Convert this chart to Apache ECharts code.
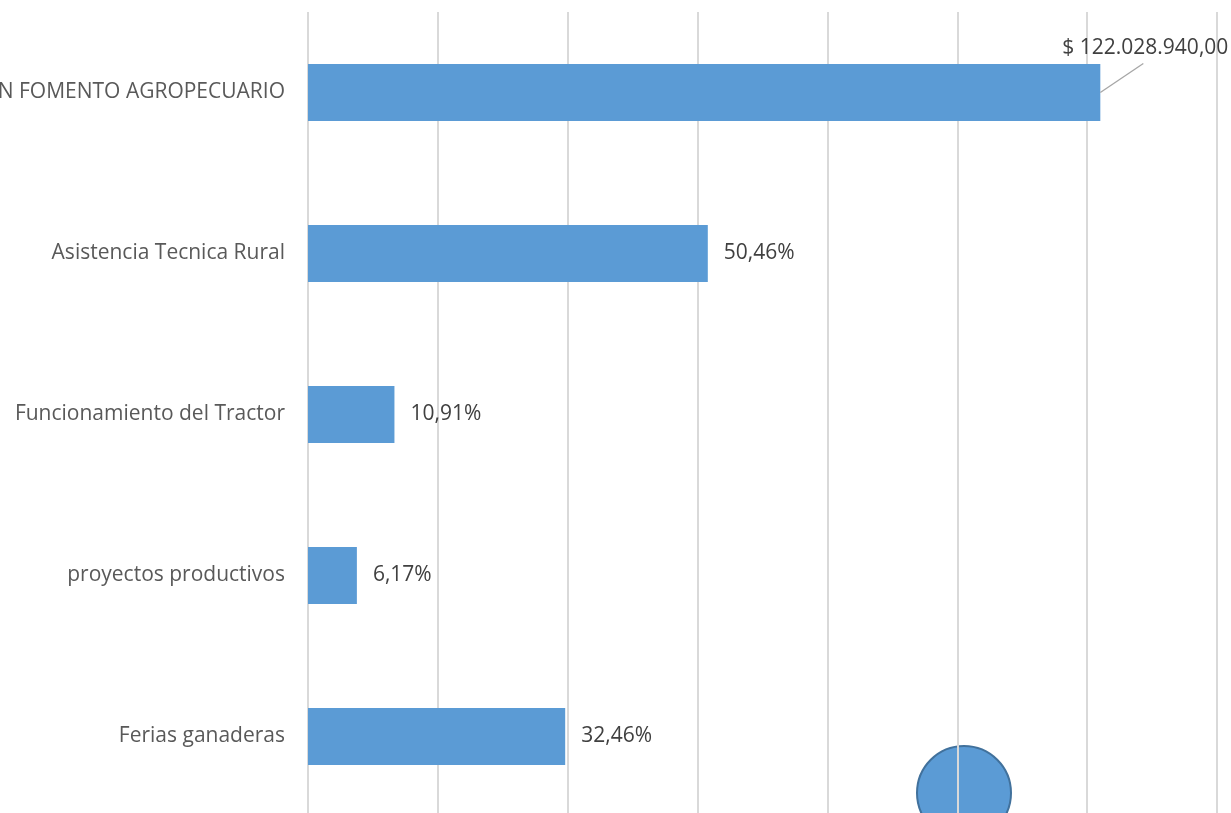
<!DOCTYPE html>
<html>
<head>
<meta charset="utf-8">
<script src="https://cdn.jsdelivr.net/npm/echarts@6/dist/echarts.min.js"></script>
<style>
  html, body { margin: 0; padding: 0; background: #ffffff; }
  #chart { width: 1231px; height: 813px; }
</style>
</head>
<body>
<div id="chart"></div>
<script>
// Budget total and share of each programme line
const categories = [
  'INVERSIÓN FOMENTO AGROPECUARIO',
  'Asistencia Tecnica Rural',
  'Funcionamiento del Tractor',
  'proyectos productivos',
  'Ferias ganaderas'
];
const total = 122028940;
const sharePct = [100, 50.46, 10.91, 6.17, 32.46];
const axisTicks = [0, 20000000, 40000000, 60000000, 80000000, 100000000, 120000000, 140000000];

const fmtPct = v => v.toFixed(2).replace('.', ',') + '%';
const fmtMoney = v => '$ ' + v.toFixed(2).replace('.', ',').replace(/\B(?=(\d{3})+(?!\d))/g, '.');

const barData = sharePct.map((p, i) => {
  const item = { value: total * p / 100, pct: p };
  if (i === 0) {
    item.label = { formatter: () => fmtMoney(total) };
  }
  return item;
});

const chart = echarts.init(document.getElementById('chart'), null, { renderer: 'canvas' });
const textFont = '"Open Sans", sans-serif';

chart.setOption({
  backgroundColor: '#ffffff',
  animation: false,
  grid: { left: 308, right: 14, top: 12, bottom: -4, containLabel: false, outerBoundsMode: 'none' },
  xAxis: {
    type: 'value',
    min: axisTicks[0],
    max: axisTicks[axisTicks.length - 1],
    interval: axisTicks[1] - axisTicks[0],
    axisLine: { show: false },
    axisTick: { show: false },
    axisLabel: { show: false },
    splitLine: { show: true, lineStyle: { color: '#d9d9d9', width: 2 } }
  },
  yAxis: {
    type: 'category',
    inverse: true,
    data: categories,
    axisLine: { show: false },
    axisTick: { show: false },
    axisLabel: {
      color: '#595959',
      fontSize: 21,
      fontFamily: textFont,
      margin: 23
    }
  },
  series: [{
    type: 'bar',
    data: barData,
    barWidth: 57,
    itemStyle: { color: '#5b9bd5' },
    label: {
      show: true,
      position: 'right',
      distance: 16,
      color: '#404040',
      fontSize: 21,
      fontFamily: textFont,
      formatter: p => fmtPct(p.data.pct)
    },
    labelLayout: params => params.dataIndex === 0 ? { dx: -54, dy: -44 } : {}
  }]
});

// Leader line from the end of the total bar up to its value label,
// plus the round marker sitting behind the gridlines at the bottom.
const barEnd = chart.convertToPixel({ seriesIndex: 0 }, [total, 0]);
chart.setOption({
  graphic: [{
    type: 'line',
    z: 100,
    shape: { x1: barEnd[0], y1: barEnd[1], x2: barEnd[0] + 43, y2: barEnd[1] - 29 },
    style: { stroke: '#a6a6a6', lineWidth: 1.3 }
  }, {
    type: 'circle',
    z: -10,
    shape: { cx: 964, cy: 793, r: 47 },
    style: { fill: '#5b9bd5', stroke: '#41719c', lineWidth: 2 }
  }]
});
</script>
</body>
</html>
